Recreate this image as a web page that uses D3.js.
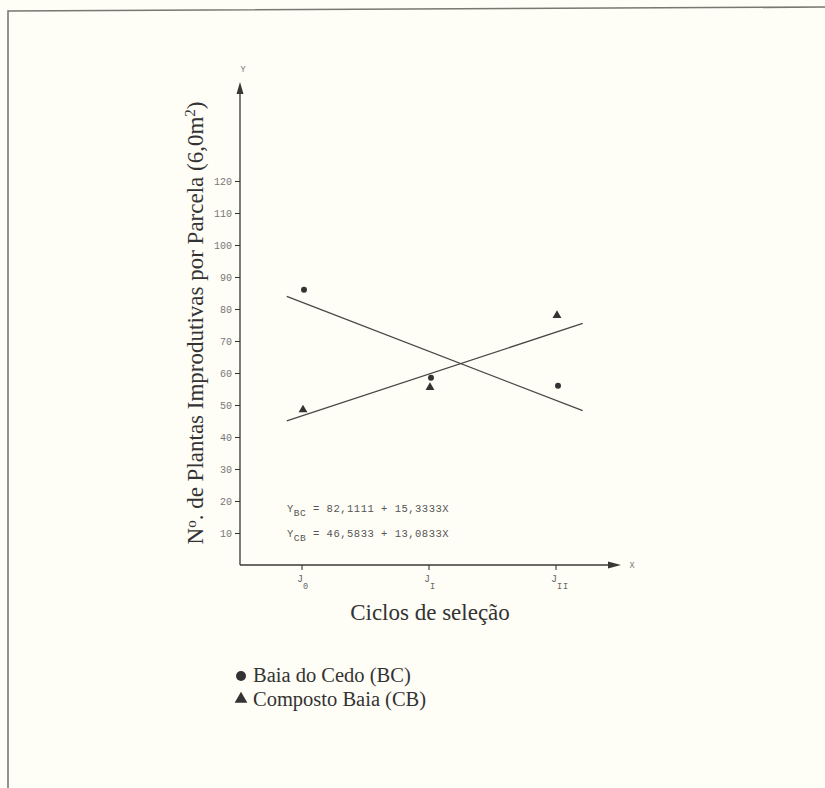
<!DOCTYPE html>
<html>
<head>
<meta charset="utf-8">
<script src="https://cdn.jsdelivr.net/npm/d3@7"></script>
<style>
html,body{margin:0;padding:0;background:#fefdf6;}
svg{display:block;}
</style>
</head>
<body>
<script>
// ---- data ----
const cycles = [0, 1, 2];
const cycleLabels = ["0", "I", "II"];
const bcValues = [86, 58.5, 56];      // Baia do Cedo (BC) - circles
const cbValues = [48.5, 55.5, 78];    // Composto Baia (CB) - triangles
const bcIntercept = 82.1111, bcSlope = -15.3333;
const cbIntercept = 46.5833, cbSlope = 13.0833;
const lineRange = [-0.12, 2.21];
const yTicks = [10, 20, 30, 40, 50, 60, 70, 80, 90, 100, 110, 120];
const eqTexts = [
  {main: "Y", sub: "BC", rest: " = 82,1111 + 15,3333X"},
  {main: "Y", sub: "CB", rest: " = 46,5833 + 13,0833X"}
];
const legendItems = [
  {shape: "circle", label: "Baia do Cedo (BC)"},
  {shape: "triangle", label: "Composto Baia (CB)"}
];

const W = 825, H = 788;
const svg = d3.select("body").append("svg").attr("width", W).attr("height", H);

// paper frame
svg.append("path").attr("d", "M8,800 L8,11 L830,7")
  .attr("fill", "none").attr("stroke", "#7a7670").attr("stroke-width", 1.6);

const x = d3.scaleLinear().domain([0, 2]).range([302, 556]);
const y = d3.scaleLinear().domain([0, 120]).range([565, 181]);
const x0 = 240, y0 = 565;
const ink = "#3a3835";
const mono = "'Liberation Mono', 'DejaVu Sans Mono', monospace";
const serif = "'Liberation Serif', 'DejaVu Serif', serif";

// Y axis
const yAxis = d3.axisLeft(y).tickValues(yTicks).tickSize(5).tickSizeOuter(0).tickPadding(3);
const gy = svg.append("g").attr("transform", `translate(${x0},0)`).call(yAxis);
gy.select(".domain").remove();
gy.selectAll(".tick line").attr("stroke", ink).attr("stroke-width", 1.1);
gy.selectAll(".tick text").attr("font-family", mono).attr("font-size", 10).attr("fill", "#777");

svg.append("line").attr("x1", x0).attr("x2", x0).attr("y1", y0).attr("y2", 90)
  .attr("stroke", ink).attr("stroke-width", 1.3);
svg.append("path").attr("d", `M${x0},82 L${x0-3.5},94 L${x0+3.5},94 Z`).attr("fill", ink);
svg.append("text").attr("x", x0 + 3).attr("y", 72).attr("font-family", mono)
  .attr("font-size", 8.5).attr("fill", "#777").attr("text-anchor", "middle").text("Y");

// X axis
svg.append("line").attr("x1", x0).attr("x2", 612).attr("y1", y0).attr("y2", y0)
  .attr("stroke", ink).attr("stroke-width", 1.3);
svg.append("path").attr("d", `M621,${y0} L608,${y0-3.5} L608,${y0+3.5} Z`).attr("fill", ink);
svg.append("text").attr("x", 632).attr("y", y0 + 3).attr("font-family", mono)
  .attr("font-size", 8.5).attr("fill", "#777").attr("text-anchor", "middle").text("X");

const xt = svg.append("g").selectAll("g").data(cycles).join("g")
  .attr("transform", d => `translate(${x(d)},${y0})`);
xt.append("line").attr("y1", 0).attr("y2", 5).attr("stroke", ink).attr("stroke-width", 1.1);
xt.append("text").attr("y", 17).attr("text-anchor", "end").attr("x", 1)
  .attr("font-family", mono).attr("font-size", 10).attr("fill", "#666").text("J");
xt.append("text").attr("y", 24).attr("x", 1).attr("letter-spacing", 1)
  .attr("font-family", mono).attr("font-size", 8.5).attr("fill", "#666")
  .text((d, i) => cycleLabels[i]);

// regression lines
const regs = [[bcIntercept, bcSlope], [cbIntercept, cbSlope]];
svg.append("g").selectAll("line").data(regs).join("line")
  .attr("x1", x(lineRange[0])).attr("x2", x(lineRange[1]))
  .attr("y1", d => y(d[0] + d[1] * lineRange[0]))
  .attr("y2", d => y(d[0] + d[1] * lineRange[1]))
  .attr("stroke", "#4a4744").attr("stroke-width", 1.3);

// points
svg.append("g").selectAll("circle").data(bcValues).join("circle")
  .attr("cx", (d, i) => x(cycles[i]) + 2).attr("cy", d => y(d)).attr("r", 3)
  .attr("fill", "#333");
const tri = d3.symbol().type(d3.symbolTriangle).size(34);
svg.append("g").selectAll("path").data(cbValues).join("path")
  .attr("d", tri).attr("transform", (d, i) => `translate(${x(cycles[i]) + 1},${y(d)})`)
  .attr("fill", "#333");

// equations
eqTexts.forEach((e, i) => {
  const t = svg.append("text").attr("x", 287).attr("y", 512 + i * 25)
    .attr("font-family", mono).attr("font-size", 10.5).attr("letter-spacing", 0.5)
    .attr("fill", "#555");
  t.append("tspan").text(e.main);
  t.append("tspan").attr("dy", 4).attr("font-size", 9.5).text(e.sub);
  t.append("tspan").attr("dy", -4).text(e.rest);
});

// axis titles
const yt = svg.append("text").attr("transform", "translate(203,323) rotate(-90)")
  .attr("text-anchor", "middle").attr("font-family", serif).attr("font-size", 23)
  .attr("fill", "#333");
yt.append("tspan").text("N");
yt.append("tspan").attr("font-size", 15).attr("dy", -7).text("o");
yt.append("tspan").attr("dy", 7).text(". de Plantas Improdutivas por Parcela (6,0m");
yt.append("tspan").attr("font-size", 15).attr("dy", -8).text("2");
yt.append("tspan").attr("dy", 8).text(")");

svg.append("text").attr("x", 430).attr("y", 620).attr("text-anchor", "middle")
  .attr("font-family", serif).attr("font-size", 23).attr("fill", "#333")
  .text("Ciclos de seleção");

// legend
const lg = svg.append("g").selectAll("g").data(legendItems).join("g")
  .attr("transform", (d, i) => `translate(241,${682 + i * 24})`);
lg.filter(d => d.shape === "circle").append("circle").attr("cy", -6).attr("r", 5).attr("fill", "#333");
lg.filter(d => d.shape === "triangle").append("path")
  .attr("d", d3.symbol().type(d3.symbolTriangle).size(70)).attr("transform", "translate(0,-7)")
  .attr("fill", "#333");
lg.append("text").attr("x", 12).attr("font-family", serif).attr("font-size", 20.5)
  .attr("fill", "#333").text(d => d.label);
</script>
</body>
</html>
